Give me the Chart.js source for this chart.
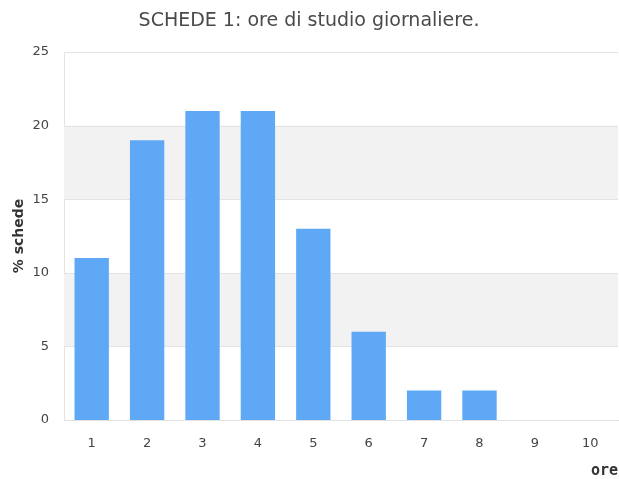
<!DOCTYPE html>
<html>
<head>
<meta charset="utf-8">
<script src="https://cdn.jsdelivr.net/npm/chart.js@4/dist/chart.umd.min.js"></script>
<style>
html,body{margin:0;padding:0;background:#fff;}
#wrap{width:619px;height:479px;position:relative;}
</style>
</head>
<body>
<div id="wrap"><canvas id="c" width="619" height="479"></canvas></div>
<script>
const categories = ['1','2','3','4','5','6','7','8','9','10'];
const percentSchede = [11, 19, 21, 21, 13, 6, 2, 2, 0, 0];
const yTicks = [0, 5, 10, 15, 20, 25];
const chartTitle = 'SCHEDE 1: ore di studio giornaliere.';
const yTitle = '% schede';
const xTitle = 'ore';

const bandPlugin = {
  id: 'bands',
  beforeDatasetsDraw(chart) {
    const {ctx, chartArea, scales} = chart;
    const y = scales.y;
    ctx.save();
    ctx.fillStyle = '#f2f2f2';
    for (let i = 0; i < yTicks.length - 1; i++) {
      if (i % 2 === 1) {
        const top = y.getPixelForValue(yTicks[i + 1]);
        const bot = y.getPixelForValue(yTicks[i]);
        ctx.fillRect(chartArea.left, top, chartArea.right - chartArea.left, bot - top);
      }
    }
    ctx.strokeStyle = '#e3e3e3';
    ctx.lineWidth = 1;
    yTicks.forEach(v => {
      const p = Math.round(y.getPixelForValue(v)) + 0.5;
      ctx.beginPath();
      ctx.moveTo(chartArea.left, p);
      ctx.lineTo(chartArea.right, p);
      ctx.stroke();
    });
    ctx.restore();
  }
};

new Chart(document.getElementById('c'), {
  type: 'bar',
  data: {
    labels: categories,
    datasets: [{
      data: percentSchede,
      backgroundColor: '#5fa8f5',
      borderWidth: 0,
      barPercentage: 0.62,
      categoryPercentage: 1.0
    }]
  },
  plugins: [bandPlugin],
  options: {
    responsive: false,
    animation: false,
    devicePixelRatio: 1,
    layout: { padding: { left: 0, right: 1, top: 0, bottom: 0 } },
    plugins: {
      legend: { display: false },
      tooltip: { enabled: false },
      title: {
        display: true,
        text: chartTitle,
        color: '#4a4a4a',
        font: { family: 'DejaVu Sans', size: 19, weight: 'normal', lineHeight: 1.2 },
        padding: { top: 10, bottom: 19.2 }
      }
    },
    scales: {
      x: {
        grid: { display: false, drawTicks: false },
        border: { display: true, color: '#dcdcdc' },
        ticks: {
          color: '#444',
          font: { family: 'DejaVu Sans', size: 13 },
          padding: 16,
          maxRotation: 0
        },
        title: {
          display: true,
          text: xTitle,
          align: 'end',
          color: '#333',
          font: { family: 'DejaVu Sans Mono', size: 15, weight: 'bold', lineHeight: 1 },
          padding: { top: 0, bottom: 0 }
        },
        afterFit(scale) { scale.height = 59; }
      },
      y: {
        min: 0,
        max: 25,
        afterBuildTicks(scale) { scale.ticks = yTicks.map(v => ({ value: v })); },
        grid: { display: false, drawTicks: false },
        border: { display: true, color: '#e3e3e3' },
        ticks: {
          color: '#444',
          font: { family: 'DejaVu Sans', size: 13 },
          padding: 15
        },
        title: {
          display: true,
          text: yTitle,
          color: '#333',
          font: { family: 'DejaVu Sans', size: 14, weight: 'bold', lineHeight: 1 },
          padding: { top: 12, bottom: 0 }
        },
        afterFit(scale) { scale.width = 64; }
      }
    }
  }
});
</script>
</body>
</html>
